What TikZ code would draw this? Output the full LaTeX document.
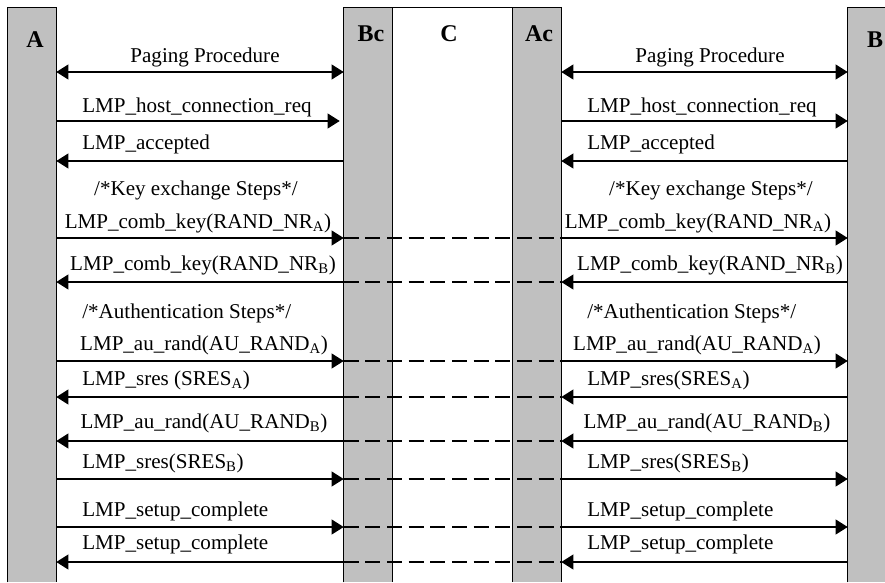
\documentclass[tikz,border=0pt]{standalone}
\usepackage{fontspec}
\setmainfont{Liberation Serif}
\usetikzlibrary{arrows.meta,positioning}
\definecolor{bargray}{RGB}{192,192,192}

\begin{document}
\begin{tikzpicture}[x=0.75pt,y=-0.75pt,>={Triangle[length=9pt,width=11pt]},
  bar/.style={fill=bargray, minimum width=36pt, minimum height=430.5pt, inner sep=0pt},
  border/.style={line width=1.1pt},
  hd/.style={font=\fontsize{18}{20}\selectfont\bfseries, inner sep=0pt},
  msg/.style={font=\fontsize{15.8}{18}\selectfont, inner sep=0pt, anchor=base},
  msgl/.style={msg, anchor=base west},
  arr/.style={line width=1.3pt},
  dashline/.style={line width=1.2pt, dash pattern=on 11.25pt off 5pt}]
  \useasboundingbox (0,0) rectangle (885,582);

  % the four lanes
  \node[bar] (A) at (32,295) {};
  \node[bar] (Bc) at (368,295) {};
  \node[bar] (Ac) at (537,295) {};
  \node[bar, minimum width=27.75pt] (B) at (866.5,295) {};

  \node[hd] (la) at (35,40) {A};
  \node[hd] (lbc) at (371,34) {Bc};
  \node[hd] (lc) at (449,34) {C};
  \node[hd] (lac) at (539,34) {Ac};
  \node[hd] (lb) at (875,40) {B};

  % message rows
  \coordinate (r1) at (0,72);
  \coordinate (r2) at (0,121);
  \coordinate (r3) at (0,161);
  \coordinate (r4) at (0,238);
  \coordinate (r5) at (0,282);
  \coordinate (r6) at (0,361);
  \coordinate (r7) at (0,397);
  \coordinate (r8) at (0,441);
  \coordinate (r9) at (0,479);
  \coordinate (r10) at (0,527);
  \coordinate (r11) at (0,562);

  % relayed part through C
  \draw[dashline] (Bc.west |- r4) -- (Ac.east |- r4);
  \draw[dashline] (Bc.west |- r5) -- (Ac.east |- r5);
  \draw[dashline] (Bc.west |- r6) -- (Ac.east |- r6);
  \draw[dashline] (Bc.west |- r7) -- (Ac.east |- r7);
  \draw[dashline] (Bc.west |- r8) -- (Ac.east |- r8);
  \draw[dashline] (Bc.west |- r9) -- (Ac.east |- r9);
  \draw[dashline] (Bc.west |- r10) -- (Ac.east |- r10);
  \draw[dashline] (Bc.west |- r11) -- (Ac.east |- r11);

  \draw[border] (A.south west) -- (A.north west) -- (A.north east) -- (A.south east);
  \draw[border] (Bc.south west) -- (Bc.north west) -- (Ac.north east) -- (Ac.south east);
  \draw[border] (Bc.north east) -- (Bc.south east);
  \draw[border] (Ac.north west) -- (Ac.south west);
  \draw[border] (B.south west) -- (B.north west) -- (B.north east);

  % A <-> Bc
  \draw[arr,<->] (A.east |- r1) -- (Bc.west |- r1);
  \draw[arr,->,shorten >=3pt] (A.east |- r2) -- (Bc.west |- r2);
  \draw[arr,<-] (A.east |- r3) -- (Bc.west |- r3);
  \draw[arr,->] (A.east |- r4) -- (Bc.west |- r4);
  \draw[arr,<-] (A.east |- r5) -- (Bc.west |- r5);
  \draw[arr,->] (A.east |- r6) -- (Bc.west |- r6);
  \draw[arr,<-] (A.east |- r7) -- (Bc.west |- r7);
  \draw[arr,<-] (A.east |- r8) -- (Bc.west |- r8);
  \draw[arr,->] (A.east |- r9) -- (Bc.west |- r9);
  \draw[arr,->] (A.east |- r10) -- (Bc.west |- r10);
  \draw[arr,<-] (A.east |- r11) -- (Bc.west |- r11);

  % Ac <-> B
  \draw[arr,<->] (Ac.east |- r1) -- (B.west |- r1);
  \draw[arr,->] (Ac.east |- r2) -- (B.west |- r2);
  \draw[arr,<-] (Ac.east |- r3) -- (B.west |- r3);
  \draw[arr,->] (Ac.east |- r4) -- (B.west |- r4);
  \draw[arr,<-] (Ac.east |- r5) -- (B.west |- r5);
  \draw[arr,->] (Ac.east |- r6) -- (B.west |- r6);
  \draw[arr,<-] (Ac.east |- r7) -- (B.west |- r7);
  \draw[arr,<-] (Ac.east |- r8) -- (B.west |- r8);
  \draw[arr,->] (Ac.east |- r9) -- (B.west |- r9);
  \draw[arr,->] (Ac.east |- r10) -- (B.west |- r10);
  \draw[arr,<-] (Ac.east |- r11) -- (B.west |- r11);

  % labels, left side
  \node[msg] (pagl) at (205,62) {Paging Procedure};
  \node[msgl] (hcl) at (82,112) {LMP\_host\_connection\_req};
  \node[msgl] (accl) at (82,149) {LMP\_accepted};
  \node[msg] (kexl) at (196,195) {/*Key exchange Steps*/};
  \node[msg] (ckal) at (198,228) {LMP\_comb\_key(RAND\_NR\textsubscript{A})};
  \node[msg] (ckbl) at (203,270) {LMP\_comb\_key(RAND\_NR\textsubscript{B})};
  \node[msgl] (authl) at (82,318) {/*Authentication Steps*/};
  \node[msg] (aral) at (204,350) {LMP\_au\_rand(AU\_RAND\textsubscript{A})};
  \node[msgl] (srsal) at (82,385) {LMP\_sres (SRES\textsubscript{A})};
  \node[msg] (arbl) at (204,428) {LMP\_au\_rand(AU\_RAND\textsubscript{B})};
  \node[msgl] (srsbl) at (82,468) {LMP\_sres(SRES\textsubscript{B})};
  \node[msgl] (sc1l) at (82,516) {LMP\_setup\_complete};
  \node[msgl] (sc2l) at (82,549) {LMP\_setup\_complete};

  % labels, right side
  \node[msg] (pagr) at (710,62) {Paging Procedure};
  \node[msgl] (hcr) at (587,112) {LMP\_host\_connection\_req};
  \node[msgl] (accr) at (587,149) {LMP\_accepted};
  \node[msg] (kexr) at (711,195) {/*Key exchange Steps*/};
  \node[msg] (ckar) at (698,228) {LMP\_comb\_key(RAND\_NR\textsubscript{A})};
  \node[msg] (ckbr) at (710,270) {LMP\_comb\_key(RAND\_NR\textsubscript{B})};
  \node[msgl] (authr) at (587,318) {/*Authentication Steps*/};
  \node[msg] (arar) at (697,350) {LMP\_au\_rand(AU\_RAND\textsubscript{A})};
  \node[msgl] (srsar) at (587,385) {LMP\_sres(SRES\textsubscript{A})};
  \node[msg] (arbr) at (707,428) {LMP\_au\_rand(AU\_RAND\textsubscript{B})};
  \node[msgl] (srsbr) at (587,468) {LMP\_sres(SRES\textsubscript{B})};
  \node[msgl] (sc1r) at (587,516) {LMP\_setup\_complete};
  \node[msgl] (sc2r) at (587,549) {LMP\_setup\_complete};
\end{tikzpicture}
\end{document}
